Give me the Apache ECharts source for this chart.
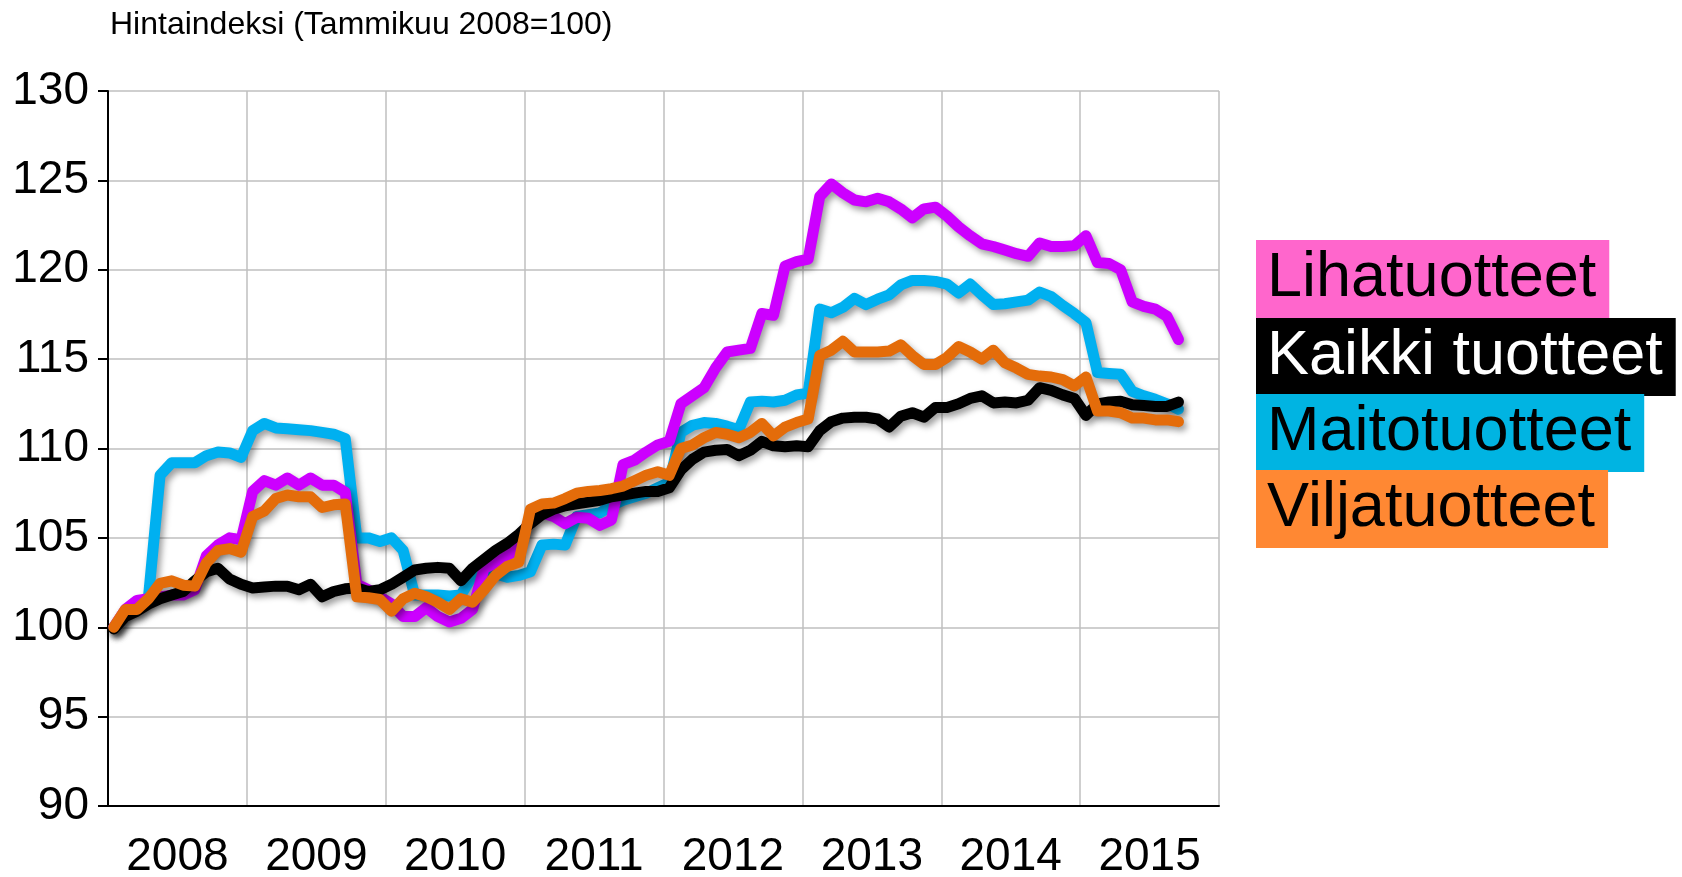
<!DOCTYPE html>
<html>
<head>
<meta charset="utf-8">
<script src="https://cdn.jsdelivr.net/npm/echarts@6/dist/echarts.min.js"></script>
<style>
  html, body { margin: 0; padding: 0; background: #fff; }
  #chart { width: 1682px; height: 877px; }
</style>
</head>
<body>
<div id="chart"></div>
<script>
// vuodet (x-akselin tekstit)
var years = ['2008', '2009', '2010', '2011', '2012', '2013', '2014', '2015'];
var yTicks = [90, 95, 100, 105, 110, 115, 120, 125, 130];

// hintaindeksit kuukausittain, tammikuu 2008 - syyskuu 2015
var lihatuotteet = [
  100, 101.0, 101.5, 101.6, 101.7, 101.8, 101.8, 102.1, 104.0, 104.6,
  105.0, 104.9, 107.6, 108.2, 107.95, 108.35, 107.95, 108.35, 107.95, 107.95,
  107.55, 102.4, 102.1, 101.7, 101.3, 100.6, 100.6, 101.1, 100.6, 100.3,
  100.5, 101.0, 103.3, 103.6, 104.0, 104.45, 106.2, 106.4, 106.2, 105.8,
  106.15, 106.1, 105.7, 106.0, 109.1, 109.35, 109.8, 110.2, 110.4, 112.5,
  112.95, 113.4, 114.5, 115.4, 115.5, 115.6, 117.55, 117.45, 120.2, 120.45,
  120.6, 124.1, 124.8, 124.3, 123.9, 123.8, 124.0, 123.8, 123.4, 122.9,
  123.4, 123.5, 123.0, 122.4, 121.9, 121.45, 121.3, 121.1, 120.9, 120.75,
  121.5, 121.3, 121.3, 121.35, 121.9, 120.4, 120.35, 120.0, 118.2, 117.95,
  117.8, 117.4, 116.1
];
var kaikkiTuotteet = [
  99.9, 100.6, 100.9, 101.3, 101.6, 101.8, 102.0, 102.6, 103.1, 103.3,
  102.7, 102.4, 102.2, 102.25, 102.3, 102.3, 102.1, 102.4, 101.7, 102.0,
  102.15, 102.2, 102.0, 102.1, 102.4, 102.8, 103.2, 103.3, 103.35, 103.3,
  102.6, 103.3, 103.8, 104.3, 104.7, 105.2, 105.8, 106.3, 106.6, 106.8,
  106.9, 107.0, 107.1, 107.3, 107.4, 107.5, 107.6, 107.6, 107.8, 108.8,
  109.4, 109.8, 109.9, 109.95, 109.6, 109.9, 110.4, 110.15, 110.1, 110.15,
  110.1, 111.0, 111.5, 111.7, 111.75, 111.75, 111.65, 111.2, 111.8, 112.0,
  111.75, 112.3, 112.3, 112.5, 112.8, 112.95, 112.55, 112.6, 112.55, 112.7,
  113.4, 113.25, 113.0, 112.8, 111.85, 112.5, 112.6, 112.65, 112.45, 112.4,
  112.35, 112.35, 112.6
];
var maitotuotteet = [
  100, 100.8, 101.1, 101.7, 108.5, 109.2, 109.2, 109.2, 109.6, 109.8,
  109.75, 109.5, 111.0, 111.4, 111.15, 111.1, 111.05, 111.0, 110.9, 110.8,
  110.55, 105.0, 105.0, 104.8, 105.0, 104.3, 101.8, 101.8, 101.8, 101.75,
  101.8, 102.9, 103.3, 103.0, 102.8, 102.9, 103.1, 104.6, 104.65, 104.6,
  106.2, 106.3, 106.4, 106.8, 107.1, 107.3, 107.5, 107.8, 108.1, 110.9,
  111.3, 111.45, 111.4, 111.25, 111.05, 112.6, 112.65, 112.6, 112.7, 113.0,
  113.1, 117.8, 117.6, 117.9, 118.4, 118.05, 118.35, 118.6, 119.15, 119.4,
  119.4, 119.35, 119.2, 118.7, 119.2, 118.6, 118.05, 118.1, 118.2, 118.3,
  118.75, 118.5, 118.0, 117.55, 117.05, 114.25, 114.2, 114.15, 113.2, 112.95,
  112.75, 112.5, 112.2
];
var viljatuotteet = [
  100, 101.0, 101.0, 101.6, 102.45, 102.6, 102.35, 102.3, 103.6, 104.3,
  104.4, 104.2, 106.2, 106.5, 107.2, 107.4, 107.3, 107.3, 106.7, 106.85,
  106.9, 101.7, 101.65, 101.55, 100.9, 101.6, 101.9, 101.7, 101.4, 101.0,
  101.6, 101.4, 102.1, 102.9, 103.4, 103.65, 106.6, 106.9, 106.95, 107.2,
  107.5, 107.6, 107.65, 107.75, 107.9, 108.2, 108.5, 108.7, 108.5, 110.0,
  110.2, 110.6, 110.9, 110.8, 110.6, 110.9, 111.4, 110.7, 111.2, 111.45,
  111.65, 115.2, 115.5, 116.0, 115.4, 115.4, 115.4, 115.45, 115.8, 115.2,
  114.7, 114.7, 115.1, 115.7, 115.4, 115.0, 115.5, 114.8, 114.5, 114.15,
  114.05, 114.0, 113.85, 113.5, 114.0, 112.1, 112.1, 112.0, 111.7, 111.7,
  111.6, 111.6, 111.5
];

// kuukaudet kategorioiksi
var months = [];
years.forEach(function (y) {
  for (var m = 1; m <= 12; m++) {
    months.push(y + '-' + (m < 10 ? '0' + m : m));
  }
});

var FONT = '"Liberation Sans", Arial, sans-serif';
var gridColor = '#bfbfbf';

function lineSeries(name, data, color) {
  return {
    name: name,
    type: 'line',
    data: data,
    symbol: 'none',
    smooth: false,
    animation: false,
    lineStyle: {
      color: color,
      width: 11,
      cap: 'round',
      join: 'round',
      shadowColor: 'rgba(0,0,0,0.38)',
      shadowBlur: 6,
      shadowOffsetX: 3,
      shadowOffsetY: 4
    }
  };
}

// selitteen laatikot
var legendItems = [
  { text: 'Lihatuotteet', bg: '#ff66cc', fg: '#000', top: 240 },
  { text: 'Kaikki tuotteet', bg: '#000000', fg: '#fff', top: 318 },
  { text: 'Maitotuotteet', bg: '#00b4e2', fg: '#000', top: 394 },
  { text: 'Viljatuotteet', bg: '#ff8833', fg: '#000', top: 470 }
];

var graphics = [{
  type: 'text',
  style: {
    x: 110,
    y: 25,
    text: 'Hintaindeksi (Tammikuu 2008=100)',
    fill: '#000',
    font: '32px ' + FONT,
    verticalAlign: 'middle'
  }
}];
legendItems.forEach(function (it) {
  graphics.push({
    type: 'text',
    left: 1256,
    top: it.top,
    style: {
      text: it.text,
      fill: it.fg,
      font: '63px ' + FONT,
      backgroundColor: it.bg,
      padding: [0, 13, 0, 11],
      lineHeight: 78
    }
  });
});

var myChart = echarts.init(document.getElementById('chart'));
var option = {
  backgroundColor: '#fff',
  animation: false,
  grid: { left: 108, right: 463, top: 91, bottom: 71, containLabel: false, outerBoundsMode: 'none' },
  xAxis: [{
    type: 'category',
    data: months,
    boundaryGap: true,
    axisLine: { lineStyle: { color: '#000', width: 2 } },
    axisTick: { interval: 11, length: 8, lineStyle: { color: '#000', width: 2 } },
    axisLabel: { show: false },
    splitLine: { show: true, interval: 11, lineStyle: { color: gridColor, width: 1.5 } }
  }, {
    type: 'category',
    data: years,
    boundaryGap: true,
    position: 'bottom',
    axisLine: { show: false },
    axisTick: { show: false },
    splitLine: { show: false },
    axisLabel: { color: '#000', fontSize: 46, fontFamily: FONT, margin: 28 }
  }],
  yAxis: {
    type: 'value',
    min: yTicks[0],
    max: yTicks[yTicks.length - 1],
    interval: 5,
    axisLine: { show: true, lineStyle: { color: '#000', width: 2 } },
    axisTick: { show: true, length: 10, lineStyle: { color: '#000', width: 2 } },
    axisLabel: { color: '#000', fontSize: 46, fontFamily: FONT, margin: 19 },
    splitLine: { lineStyle: { color: gridColor, width: 1.5 } }
  },
  graphic: graphics,
  series: [
    lineSeries('Maitotuotteet', maitotuotteet, '#00b0f0'),
    lineSeries('Lihatuotteet', lihatuotteet, '#cc00ff'),
    lineSeries('Kaikki tuotteet', kaikkiTuotteet, '#000000'),
    lineSeries('Viljatuotteet', viljatuotteet, '#e46c0a')
  ]
};
myChart.setOption(option);
</script>
</body>
</html>
